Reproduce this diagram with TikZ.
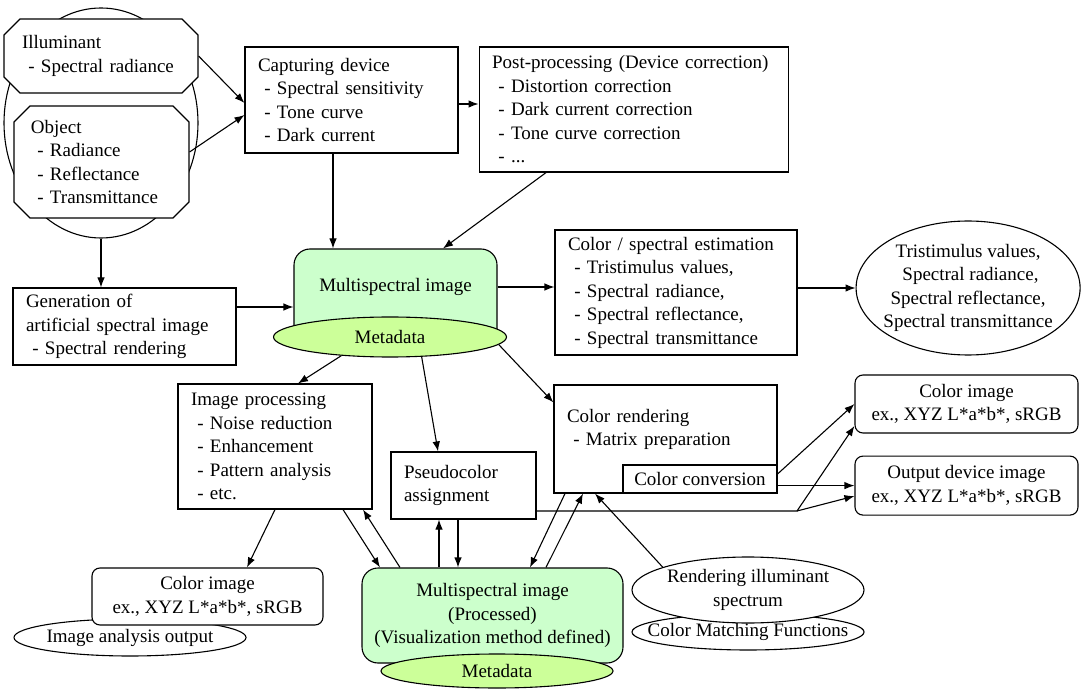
\documentclass[tikz,border=0pt]{standalone}
\usepackage{fontspec}
\setmainfont{Liberation Serif}
\usepackage{tikz}
\usetikzlibrary{arrows.meta,positioning,shapes.misc,shapes.geometric}
\definecolor{msgreen}{HTML}{CCFFCC}
\definecolor{metagreen}{HTML}{CCFF99}

\begin{document}
\begin{tikzpicture}[x=0.5pt, y=-0.5pt, font=\fontsize{9.5pt}{11.75pt}\selectfont, line width=0.55pt,
  box/.style={draw, fill=white, align=left, inner xsep=6.5pt, inner ysep=0pt},
  octbox/.style={box, chamfered rectangle, chamfered rectangle xsep=4pt, chamfered rectangle ysep=4pt},
  rbox/.style={draw, fill=white, rounded corners=4pt, align=center, inner sep=0pt},
  greenbox/.style={draw, fill=msgreen, rounded corners=8pt, align=center, inner sep=0pt},
  oval/.style={draw, fill=white, ellipse, align=center, inner xsep=-30pt, inner ysep=-16pt},
  arr/.style={-{Latex[length=5pt]}}]
  \useasboundingbox (0,0) rectangle (1081,689);

  \node[oval, minimum width=97pt, minimum height=115pt] (objell) at (101,123) {};
  \node[octbox, text width=79pt, minimum height=37pt, inner xsep=5pt] (illum) at (101,56) {Illuminant\\\ - Spectral radiance};
  \node[octbox, text width=70.5pt, minimum height=56pt, inner xsep=4.5pt] (obj) at (101.5,162) {Object\\\ - Radiance\\\ - Reflectance\\\ - Transmittance};

  \node[box, text width=93.5pt, minimum height=53pt] (cap) at (351.5,100) {Capturing device\\\ - Spectral sensitivity\\\ - Tone curve\\\ - Dark current};
  \node[box, text width=141.5pt, minimum height=62.5pt, right=10pt of cap.north east, anchor=north west] (post) {Post-processing (Device correction)\\\ - Distortion correction\\\ - Dark current correction\\\ - Tone curve correction\\\ - ...};

  \node[greenbox, minimum width=101.5pt, minimum height=48pt] (ms) at (395.5,297) {Multispectral image\\\mbox{}};
  \node[oval, fill=metagreen, minimum width=116.5pt, minimum height=20pt] (meta) at (390,337) {Metadata};
  \node[box, text width=98.5pt, minimum height=38.5pt] (gen) at (124.5,326.5) {Generation of\\artificial spectral image\\\ - Spectral rendering};
  \node[box, text width=108pt, minimum height=62.5pt] (cs) at (676,292.5) {Color / spectral estimation\\\ - Tristimulus values,\\\ - Spectral radiance,\\\ - Spectral reflectance,\\\ - Spectral transmittance};
  \node[oval, minimum width=112pt, minimum height=67pt, right=29pt of cs, yshift=2.25pt] (tri) {Tristimulus values,\\\ Spectral radiance,\\Spectral reflectance,\\Spectral transmittance};

  \node[box, text width=84pt, minimum height=62.5pt] (proc) at (275,446.5) {Image processing\\\ - Noise reduction\\\ - Enhancement\\\ - Pattern analysis\\\ - etc.};
  \node[box, text width=59.5pt, minimum height=33.5pt] (pseudo) at (463.5,485.5) {Pseudocolor\\assignment};
  \node[box, text width=98.5pt, minimum height=54pt] (rend) at (665.5,439) {Color rendering\\\ - Matrix preparation\\\mbox{}};
  \node[draw, fill=white, minimum width=77pt, minimum height=14pt, inner sep=0pt, anchor=south east] (conv) at (rend.south east) {Color conversion};
  \node[rbox, minimum width=111.5pt, minimum height=29pt] (cimg) at (966.5,404) {Color image\\ex., XYZ L*a*b*, sRGB};
  \node[rbox, minimum width=111.5pt, minimum height=29.5pt, below=11pt of cimg] (outimg) {Output device image\\ex., XYZ L*a*b*, sRGB};
  \coordinate (split) at (797,511);

  \node[greenbox, minimum width=130.5pt, minimum height=47.5pt] (msp) at (492.5,615.5) {Multispectral image\\(Processed)\\(Visualization method defined)};
  \node[oval, fill=metagreen, minimum width=116pt, minimum height=17pt] (meta2) at (497,671) {Metadata};
  \node[oval, minimum width=116pt, minimum height=18.5pt] (iao) at (130,637.5) {Image analysis output};
  \node[rbox, minimum width=115.5pt, minimum height=28.5pt] (cimgb) at (207.5,596.5) {Color image\\ex., XYZ L*a*b*, sRGB};
  \node[oval, minimum width=116pt, minimum height=18pt] (cmf) at (748,632) {Color Matching Functions};
  \node[oval, minimum width=116pt, minimum height=33pt] (rill) at (748,590) {Rendering illuminant\\spectrum};

  % capture chain
  \draw[arr] (illum.east) -- ([yshift=-1.5pt]cap.west);
  \draw[arr] ([yshift=5pt]obj.east) -- ([yshift=-7.5pt]cap.west);
  \draw[arr] ([yshift=-2pt]cap.east) -- ([yshift=-2pt]cap.east -| post.west);
  \draw[arr] ([xshift=-9.25pt]cap.south) -- ([xshift=-9.25pt]cap.south |- ms.north);
  \draw[arr] ([xshift=-43.75pt]post.south) -- ([xshift=23.75pt]ms.north);
  \draw[arr] (objell.south) -- (objell.south |- gen.north);
  \draw[arr] ([yshift=9.75pt]gen.east) -- ([yshift=9.75pt]gen.east -| ms.west);
  \draw[arr] ([yshift=5pt]ms.east) -- ([yshift=5pt]ms.east -| cs.west);
  \draw[arr] (tri.west -| cs.east) -- (tri.west);

  % from metadata
  \draw[arr] (meta.201) -- ([xshift=11.5pt]proc.north);
  \draw[arr] (meta.328) -- ([xshift=-12.75pt]pseudo.north);
  \draw[arr] (meta.356) -- ([yshift=-9pt]rend.north west);

  % processed image loop
  \draw[arr] (proc.south) -- ([xshift=19.75pt]cimgb.north);
  \draw[arr] ([xshift=34pt]proc.south) -- ([xshift=-56.25pt]msp.north);
  \draw[arr] ([xshift=-46.25pt]msp.north) -- ([xshift=44pt]proc.south);
  \draw[arr] ([xshift=-26.75pt]msp.north) -- ([xshift=-26.75pt]msp.north |- pseudo.south);
  \draw[arr] ([xshift=-2.75pt]pseudo.south) -- ([xshift=-2.75pt]pseudo.south |- msp.north);
  \draw[arr] ([xshift=-50.25pt]rend.south) -- ([xshift=18.75pt]msp.north);
  \draw[arr] ([xshift=26.75pt]msp.north) -- ([xshift=-41.25pt]rend.south);
  \draw[arr] (rill.165) -- ([xshift=-35.25pt]rend.south);

  % outputs
  \draw[arr] ([yshift=2.5pt]conv.east) -- (cimg.west);
  \draw[arr] (conv.east |- outimg.west) -- (outimg.west);
  \draw[arr] ([yshift=-12.75pt]pseudo.east) -- (split) -- ([yshift=-11pt]cimg.west);
  \draw[arr] (split) -- ([yshift=-5.25pt]outimg.west);
\end{tikzpicture}
\end{document}
